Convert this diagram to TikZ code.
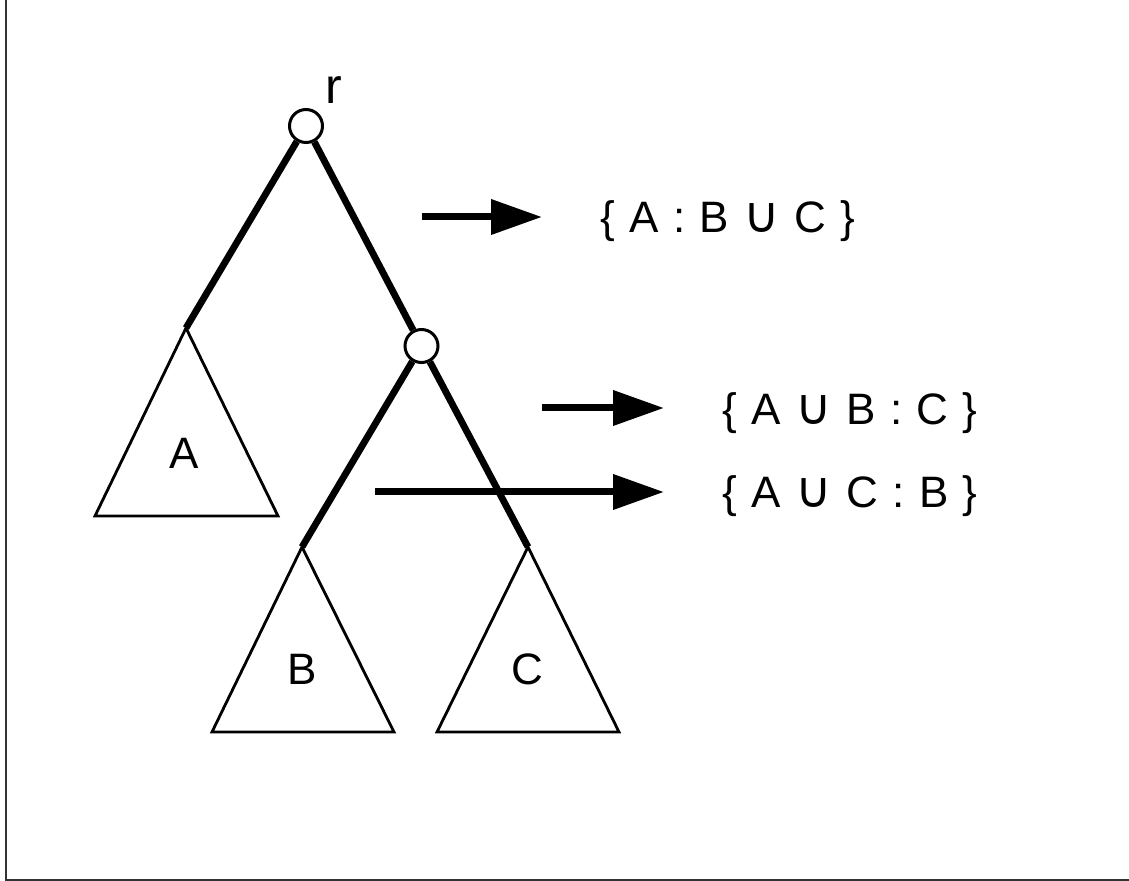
\documentclass[tikz,border=0pt]{standalone}
\usepackage{fontspec}
\setmainfont{Liberation Sans}
\newfontfamily\splitfont[LetterSpace=5]{Liberation Sans}
\newfontfamily\cupfont[LetterSpace=5]{DejaVu Sans}
\newcommand\uni{{\cupfont\fontsize{25}{26}\selectfont ∪}}
\usetikzlibrary{arrows.meta}

\begin{document}
\begin{tikzpicture}[x=0.5pt, y=-0.5pt,
    vertex/.style={circle, draw, line width=1.5pt, fill=white,
                   minimum size=16.5pt, inner sep=0pt},
    edge/.style={line width=3.4pt},
    subtree/.style={line width=1.4pt, line join=miter},
    cut/.style={line width=3.5pt, -{Triangle[length=25.5pt, width=17pt]},
                shorten >=29pt},
    split/.style={font=\splitfont\fontsize{22}{26}\selectfont,
                  anchor=base west, inner sep=0pt},
    leaf/.style={font=\fontsize{22}{26}\selectfont, inner sep=0pt}]

    % ── Frame (left and bottom only) ─────────────────────────────────────────
    \useasboundingbox (0,0) rectangle (1129,881);
    \draw[line width=1pt, black!80] (5.5,0) -- (5.5,879.5) -- (1129,879.5);

    % ── Apexes of the subtrees ───────────────────────────────────────────────
    \coordinate (apexA) at (186,328);
    \coordinate (apexB) at (302,547);
    \coordinate (apexC) at (528,547);

    % ── Subtrees ─────────────────────────────────────────────────────────────
    \draw[subtree] (apexA) -- (95,516) -- (278,516) -- cycle;
    \draw[subtree] (apexB) -- (212,732) -- (394,732) -- cycle;
    \draw[subtree] (apexC) -- (437,732) -- (619,732) -- cycle;

    \node[leaf] (labA) at (184,453) {A};
    \node[leaf] (labB) at (302,669) {B};
    \node[leaf] (labC) at (527,669) {C};

    % ── Inner vertices ───────────────────────────────────────────────────────
    \node[vertex] (root) at (306,126) {};
    \node[vertex] (mid)  at (421.5,346) {};
    \node[font=\fontsize{25}{28}\selectfont, inner sep=0pt] (rlab) at (334,90) {r};

    % ── Tree edges ───────────────────────────────────────────────────────────
    \draw[edge] (root) -- (apexA);
    \draw[edge] (root) -- (mid);
    \draw[edge] (mid) -- (apexB);
    \draw[edge] (mid) -- (apexC);

    % ── Splits ───────────────────────────────────────────────────────────────
    \node[split] (s1) at (600,233) {\{ A : B \uni{} C \}};
    \node[split] (s2) at (722,425) {\{ A \uni{} B : C \}};
    \node[split] (s3) at (722,508) {\{ A \uni{} C : B \}};

    \coordinate (c1) at (422,217);
    \coordinate (c2) at (542,408);
    \coordinate (c3) at (375,492);

    \draw[cut] (c1) -- (c1 -| s1.west);
    \draw[cut] (c2) -- (c2 -| s2.west);
    \draw[cut] (c3) -- (c3 -| s3.west);

\end{tikzpicture}
\end{document}
